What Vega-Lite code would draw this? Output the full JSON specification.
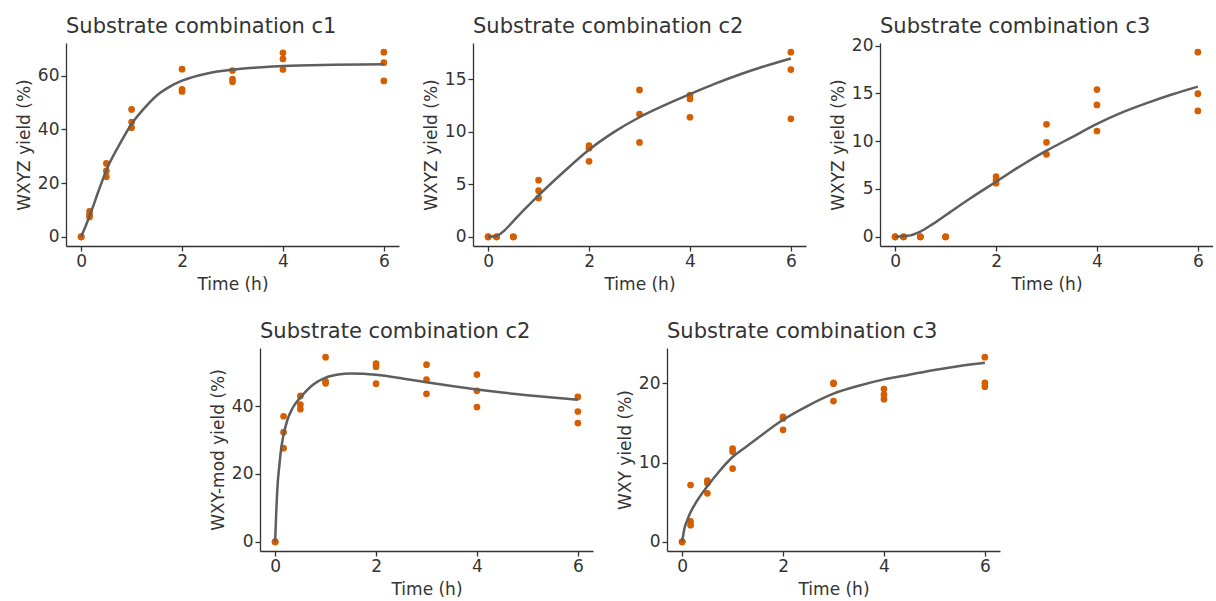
{
  "$schema": "https://vega.github.io/schema/vega-lite/v6.json",
  "padding": {"left": 15, "top": 15, "right": 0, "bottom": 0},
  "background": "white",
  "datasets": {
    "c1_pts": [
      {"t": 0, "y": 0}, {"t": 0, "y": 0}, {"t": 0, "y": 0},
      {"t": 0.167, "y": 9.5}, {"t": 0.167, "y": 8.2}, {"t": 0.167, "y": 7.4},
      {"t": 0.5, "y": 27.3}, {"t": 0.5, "y": 24.5}, {"t": 0.5, "y": 22.3},
      {"t": 1, "y": 47.4}, {"t": 1, "y": 42.7}, {"t": 1, "y": 40.6},
      {"t": 2, "y": 62.4}, {"t": 2, "y": 54.9}, {"t": 2, "y": 54.1},
      {"t": 3, "y": 61.9}, {"t": 3, "y": 58.7}, {"t": 3, "y": 57.7},
      {"t": 4, "y": 68.5}, {"t": 4, "y": 66.2}, {"t": 4, "y": 62.3},
      {"t": 6, "y": 68.7}, {"t": 6, "y": 64.8}, {"t": 6, "y": 58.0}
    ],
    "c1_fit": [
      {"t": 0, "y": 0}, {"t": 0.1, "y": 4.5}, {"t": 0.2, "y": 9.4}, {"t": 0.35, "y": 17.3},
      {"t": 0.5, "y": 24.8}, {"t": 0.75, "y": 34.0}, {"t": 1, "y": 42.0}, {"t": 1.25, "y": 47.8},
      {"t": 1.5, "y": 52.6}, {"t": 1.75, "y": 55.8}, {"t": 2, "y": 58.1}, {"t": 2.5, "y": 60.8},
      {"t": 3, "y": 62.2}, {"t": 3.5, "y": 63.0}, {"t": 4, "y": 63.6}, {"t": 5, "y": 64.0}, {"t": 6, "y": 64.2}
    ],
    "c2_pts": [
      {"t": 0, "y": 0}, {"t": 0, "y": 0}, {"t": 0, "y": 0},
      {"t": 0.167, "y": 0}, {"t": 0.167, "y": 0}, {"t": 0.167, "y": 0},
      {"t": 0.5, "y": 0}, {"t": 0.5, "y": 0}, {"t": 0.5, "y": 0},
      {"t": 1, "y": 5.4}, {"t": 1, "y": 4.4}, {"t": 1, "y": 3.7},
      {"t": 2, "y": 8.7}, {"t": 2, "y": 8.45}, {"t": 2, "y": 7.2},
      {"t": 3, "y": 14.0}, {"t": 3, "y": 11.7}, {"t": 3, "y": 9.0},
      {"t": 4, "y": 13.5}, {"t": 4, "y": 13.15}, {"t": 4, "y": 11.4},
      {"t": 6, "y": 17.6}, {"t": 6, "y": 15.95}, {"t": 6, "y": 11.25}
    ],
    "c2_fit": [
      {"t": 0, "y": 0}, {"t": 0.15, "y": 0.05}, {"t": 0.3, "y": 0.5}, {"t": 0.5, "y": 1.5},
      {"t": 0.75, "y": 2.75}, {"t": 1, "y": 3.95}, {"t": 1.5, "y": 6.2}, {"t": 2, "y": 8.3},
      {"t": 2.5, "y": 10.0}, {"t": 3, "y": 11.4}, {"t": 3.5, "y": 12.55}, {"t": 4, "y": 13.6},
      {"t": 4.5, "y": 14.6}, {"t": 5, "y": 15.5}, {"t": 5.5, "y": 16.3}, {"t": 6, "y": 17.0}
    ],
    "c3_pts": [
      {"t": 0, "y": 0}, {"t": 0, "y": 0}, {"t": 0, "y": 0},
      {"t": 0.167, "y": 0}, {"t": 0.167, "y": 0}, {"t": 0.167, "y": 0},
      {"t": 0.5, "y": 0}, {"t": 0.5, "y": 0}, {"t": 0.5, "y": 0},
      {"t": 1, "y": 0}, {"t": 1, "y": 0}, {"t": 1, "y": 0},
      {"t": 2, "y": 6.3}, {"t": 2, "y": 5.9}, {"t": 2, "y": 5.6},
      {"t": 3, "y": 11.76}, {"t": 3, "y": 9.88}, {"t": 3, "y": 8.62},
      {"t": 4, "y": 15.39}, {"t": 4, "y": 13.79}, {"t": 4, "y": 11.06},
      {"t": 6, "y": 19.3}, {"t": 6, "y": 14.97}, {"t": 6, "y": 13.16}
    ],
    "c3_fit": [
      {"t": 0, "y": 0}, {"t": 0.25, "y": 0.1}, {"t": 0.5, "y": 0.55}, {"t": 0.75, "y": 1.35},
      {"t": 1, "y": 2.25}, {"t": 1.5, "y": 4.05}, {"t": 2, "y": 5.75}, {"t": 2.5, "y": 7.45},
      {"t": 3, "y": 9.0}, {"t": 3.5, "y": 10.4}, {"t": 4, "y": 11.8}, {"t": 4.5, "y": 13.0},
      {"t": 5, "y": 14.0}, {"t": 5.5, "y": 14.9}, {"t": 6, "y": 15.7}
    ],
    "c2b_pts": [
      {"t": 0, "y": 0}, {"t": 0, "y": 0}, {"t": 0, "y": 0},
      {"t": 0.167, "y": 37.0}, {"t": 0.167, "y": 32.3}, {"t": 0.167, "y": 27.6},
      {"t": 0.5, "y": 43.0}, {"t": 0.5, "y": 40.4}, {"t": 0.5, "y": 39.1},
      {"t": 1, "y": 54.4}, {"t": 1, "y": 47.3}, {"t": 1, "y": 46.7},
      {"t": 2, "y": 52.5}, {"t": 2, "y": 51.6}, {"t": 2, "y": 46.6},
      {"t": 3, "y": 52.2}, {"t": 3, "y": 47.8}, {"t": 3, "y": 43.6},
      {"t": 4, "y": 49.3}, {"t": 4, "y": 44.5}, {"t": 4, "y": 39.7},
      {"t": 6, "y": 42.7}, {"t": 6, "y": 38.4}, {"t": 6, "y": 35.0}
    ],
    "c2b_fit": [
      {"t": 0, "y": 0}, {"t": 0.02, "y": 8.0}, {"t": 0.05, "y": 17.0}, {"t": 0.08, "y": 22.0},
      {"t": 0.12, "y": 27.5}, {"t": 0.16, "y": 31.0}, {"t": 0.24, "y": 35.8}, {"t": 0.35, "y": 39.5},
      {"t": 0.5, "y": 42.5}, {"t": 0.75, "y": 46.3}, {"t": 1, "y": 48.4}, {"t": 1.25, "y": 49.3},
      {"t": 1.5, "y": 49.6}, {"t": 1.75, "y": 49.5}, {"t": 2, "y": 49.2}, {"t": 2.5, "y": 48.2},
      {"t": 3, "y": 47.0}, {"t": 3.5, "y": 45.9}, {"t": 4, "y": 44.9}, {"t": 4.5, "y": 44.0},
      {"t": 5, "y": 43.2}, {"t": 5.5, "y": 42.5}, {"t": 6, "y": 41.9}
    ],
    "c3b_pts": [
      {"t": 0, "y": 0}, {"t": 0, "y": 0}, {"t": 0, "y": 0},
      {"t": 0.167, "y": 7.17}, {"t": 0.167, "y": 2.57}, {"t": 0.167, "y": 2.1},
      {"t": 0.5, "y": 7.72}, {"t": 0.5, "y": 7.43}, {"t": 0.5, "y": 6.12},
      {"t": 1, "y": 11.77}, {"t": 1, "y": 11.39}, {"t": 1, "y": 9.24},
      {"t": 2, "y": 15.78}, {"t": 2, "y": 15.57}, {"t": 2, "y": 14.14},
      {"t": 3, "y": 20.08}, {"t": 3, "y": 19.96}, {"t": 3, "y": 17.76},
      {"t": 4, "y": 19.28}, {"t": 4, "y": 18.57}, {"t": 4, "y": 18.0},
      {"t": 6, "y": 23.3}, {"t": 6, "y": 20.08}, {"t": 6, "y": 19.58}
    ],
    "c3b_fit": [
      {"t": 0, "y": 0}, {"t": 0.02, "y": 0.8}, {"t": 0.05, "y": 1.8}, {"t": 0.1, "y": 2.7},
      {"t": 0.15, "y": 3.5}, {"t": 0.25, "y": 4.7}, {"t": 0.5, "y": 7.0}, {"t": 0.75, "y": 9.0},
      {"t": 1, "y": 10.7}, {"t": 1.25, "y": 11.9}, {"t": 1.5, "y": 13.1}, {"t": 2, "y": 15.4},
      {"t": 2.5, "y": 17.2}, {"t": 3, "y": 18.7}, {"t": 3.5, "y": 19.7}, {"t": 4, "y": 20.5},
      {"t": 4.5, "y": 21.1}, {"t": 5, "y": 21.7}, {"t": 5.5, "y": 22.2}, {"t": 6, "y": 22.6}
    ]
  },
  "vconcat": [
    {
      "hconcat": [
        {
          "width": 333, "height": 203,
          "title": {"text": "Substrate combination c1"},
          "layer": [
            {"data": {"name": "c1_pts"}, "mark": {"type": "circle", "size": 45, "color": "#d55e00", "opacity": 1},
             "encoding": {
               "x": {"field": "t", "type": "quantitative", "scale": {"domain": [-0.3, 6.3], "nice": false, "zero": false}, "axis": {"values": [0, 2, 4, 6], "title": "Time (h)"}},
               "y": {"field": "y", "type": "quantitative", "scale": {"domain": [-3.435, 72.135], "nice": false, "zero": false}, "axis": {"values": [0, 20, 40, 60], "title": "WXYZ yield (%)"}}}},
            {"data": {"name": "c1_fit"}, "mark": {"type": "line", "color": "#5e5e5e", "strokeWidth": 2.5, "interpolate": "monotone"},
             "encoding": {"x": {"field": "t", "type": "quantitative"}, "y": {"field": "y", "type": "quantitative"}}}
          ]
        },
        {
          "width": 333, "height": 203,
          "title": {"text": "Substrate combination c2"},
          "layer": [
            {"data": {"name": "c2_pts"}, "mark": {"type": "circle", "size": 45, "color": "#d55e00", "opacity": 1},
             "encoding": {
               "x": {"field": "t", "type": "quantitative", "scale": {"domain": [-0.3, 6.3], "nice": false, "zero": false}, "axis": {"values": [0, 2, 4, 6], "title": "Time (h)"}},
               "y": {"field": "y", "type": "quantitative", "scale": {"domain": [-0.88, 18.48], "nice": false, "zero": false}, "axis": {"values": [0, 5, 10, 15], "title": "WXYZ yield (%)"}}}},
            {"data": {"name": "c2_fit"}, "mark": {"type": "line", "color": "#5e5e5e", "strokeWidth": 2.5, "interpolate": "monotone"},
             "encoding": {"x": {"field": "t", "type": "quantitative"}, "y": {"field": "y", "type": "quantitative"}}}
          ]
        },
        {
          "width": 333, "height": 203,
          "title": {"text": "Substrate combination c3", "offset": 0},
          "layer": [
            {"data": {"name": "c3_pts"}, "mark": {"type": "circle", "size": 45, "color": "#d55e00", "opacity": 1},
             "encoding": {
               "x": {"field": "t", "type": "quantitative", "scale": {"domain": [-0.3, 6.3], "nice": false, "zero": false}, "axis": {"values": [0, 2, 4, 6], "title": "Time (h)"}},
               "y": {"field": "y", "type": "quantitative", "scale": {"domain": [-0.965, 20.265], "nice": false, "zero": false}, "axis": {"values": [0, 5, 10, 15, 20], "title": "WXYZ yield (%)"}}}},
            {"data": {"name": "c3_fit"}, "mark": {"type": "line", "color": "#5e5e5e", "strokeWidth": 2.5, "interpolate": "monotone"},
             "encoding": {"x": {"field": "t", "type": "quantitative"}, "y": {"field": "y", "type": "quantitative"}}}
          ]
        }
      ],
      "spacing": 74,
      "bounds": "flush"
    },
    {
      "hconcat": [
        {"width": 120, "height": 203, "data": {"values": []}, "mark": "point", "encoding": {}},
        {
          "width": 333, "height": 203,
          "title": {"text": "Substrate combination c2"},
          "layer": [
            {"data": {"name": "c2b_pts"}, "mark": {"type": "circle", "size": 45, "color": "#d55e00", "opacity": 1},
             "encoding": {
               "x": {"field": "t", "type": "quantitative", "scale": {"domain": [-0.3, 6.3], "nice": false, "zero": false}, "axis": {"values": [0, 2, 4, 6], "title": "Time (h)"}},
               "y": {"field": "y", "type": "quantitative", "scale": {"domain": [-2.72, 57.12], "nice": false, "zero": false}, "axis": {"values": [0, 20, 40], "title": "WXY-mod yield (%)"}}}},
            {"data": {"name": "c2b_fit"}, "mark": {"type": "line", "color": "#5e5e5e", "strokeWidth": 2.5, "interpolate": "monotone"},
             "encoding": {"x": {"field": "t", "type": "quantitative"}, "y": {"field": "y", "type": "quantitative"}}}
          ]
        },
        {
          "width": 333, "height": 203,
          "title": {"text": "Substrate combination c3"},
          "layer": [
            {"data": {"name": "c3b_pts"}, "mark": {"type": "circle", "size": 45, "color": "#d55e00", "opacity": 1},
             "encoding": {
               "x": {"field": "t", "type": "quantitative", "scale": {"domain": [-0.3, 6.3], "nice": false, "zero": false}, "axis": {"values": [0, 2, 4, 6], "title": "Time (h)"}},
               "y": {"field": "y", "type": "quantitative", "scale": {"domain": [-1.165, 24.465], "nice": false, "zero": false}, "axis": {"values": [0, 10, 20], "title": "WXY yield (%)"}}}},
            {"data": {"name": "c3b_fit"}, "mark": {"type": "line", "color": "#5e5e5e", "strokeWidth": 2.5, "interpolate": "monotone"},
             "encoding": {"x": {"field": "t", "type": "quantitative"}, "y": {"field": "y", "type": "quantitative"}}}
          ]
        }
      ],
      "spacing": 74,
      "bounds": "flush"
    }
  ],
  "spacing": 305,
  "bounds": "flush",
  "config": {
    "view": {"stroke": null},
    "font": "DejaVu Sans",
    "axis": {
      "grid": false,
      "domainColor": "#333333", "domainWidth": 1.3,
      "tickColor": "#333333", "tickWidth": 1.3, "tickSize": 5,
      "labelFont": "DejaVu Sans", "labelFontSize": 17, "labelColor": "#333333", "labelPadding": 2,
      "titleFont": "DejaVu Sans", "titleFontSize": 17, "titleFontWeight": "normal", "titleColor": "#333333", "titlePadding": 4
    },
    "axisX": {"titlePadding": 7},
    "title": {
      "font": "DejaVu Sans", "fontSize": 21, "fontWeight": "normal", "color": "#333333",
      "anchor": "start", "frame": "group", "baseline": "alphabetic", "offset": 6
    }
  }
}
